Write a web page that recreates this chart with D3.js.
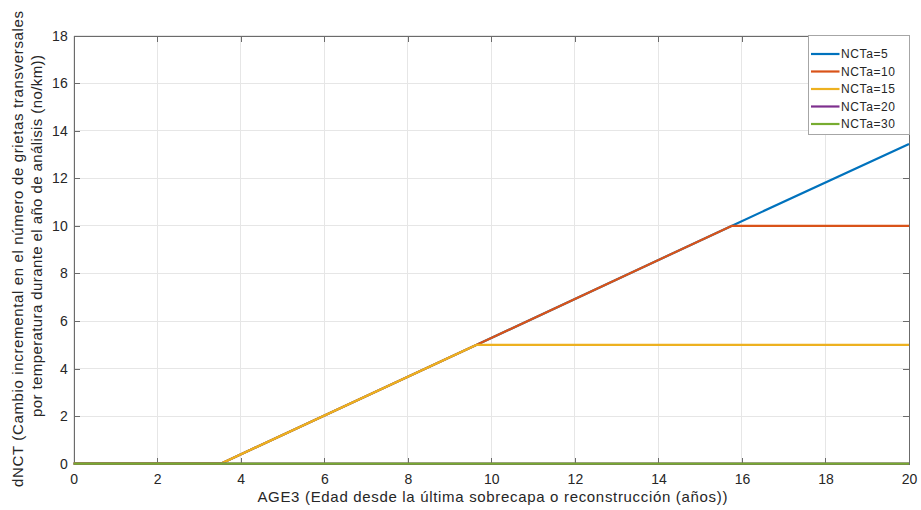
<!DOCTYPE html>
<html>
<head>
<meta charset="utf-8">
<script src="https://cdn.jsdelivr.net/npm/d3@7"></script>
<style>
  html, body { margin: 0; padding: 0; background: #fff; }
  svg { display: block; font-family: "Liberation Sans", Arial, sans-serif; }
</style>
</head>
<body>
<svg id="chart" width="921" height="510"></svg>
<script>
// ---- Data ----
const seriesNames = ["NCTa=5", "NCTa=10", "NCTa=15", "NCTa=20", "NCTa=30"];
const seriesColors = ["#0072BD", "#D95319", "#EDB120", "#7E2F8E", "#77AC30"];
const ageNCTa5  = [0, 3.52, 9.65, 15.75, 20];
const dnctNCTa5 = [0, 0, 5.0, 10.0, 13.45];
const ageNCTa10  = [0, 3.52, 9.65, 15.75, 20];
const dnctNCTa10 = [0, 0, 5.0, 10.0, 10.0];
const ageNCTa15  = [0, 3.52, 9.65, 20];
const dnctNCTa15 = [0, 0, 5.0, 5.0];
const ageNCTa20  = [0, 20];
const dnctNCTa20 = [0, 0];
const ageNCTa30  = [0, 20];
const dnctNCTa30 = [0, 0];
const xTicks = [0, 2, 4, 6, 8, 10, 12, 14, 16, 18, 20];
const yTicks = [0, 2, 4, 6, 8, 10, 12, 14, 16, 18];
const xLabel = "AGE3 (Edad desde la última sobrecapa o reconstrucción (años))";
const yLabel1 = "dNCT (Cambio incremental en el número de grietas transversales";
const yLabel2 = "por temperatura durante el año de análisis (no/km))";

const seriesX = [ageNCTa5, ageNCTa10, ageNCTa15, ageNCTa20, ageNCTa30];
const seriesY = [dnctNCTa5, dnctNCTa10, dnctNCTa15, dnctNCTa20, dnctNCTa30];
const series = seriesNames.map((name, i) => ({
  name, color: seriesColors[i],
  points: seriesX[i].map((x, j) => ({ x, y: seriesY[i][j] }))
}));

// ---- Layout ----
const svg = d3.select("#chart");
const L = 73.7, R = 909, T = 35.7, B = 463.7;
const x = d3.scaleLinear().domain([0, 20]).range([L, R]);
const y = d3.scaleLinear().domain([0, 18]).range([B, T]);

// grid
const grid = svg.append("g");
grid.selectAll("line.gx").data(xTicks).join("line")
  .attr("x1", d => x(d)).attr("x2", d => x(d)).attr("y1", T).attr("y2", B)
  .attr("stroke", "#e6e6e6").attr("stroke-width", 1).attr("shape-rendering", "crispEdges");
grid.selectAll("line.gy").data(yTicks).join("line")
  .attr("y1", d => y(d)).attr("y2", d => y(d)).attr("x1", L).attr("x2", R)
  .attr("stroke", "#e6e6e6").attr("stroke-width", 1).attr("shape-rendering", "crispEdges");

// axes (ticks inward)
const axisColor = "#6b6b6b";
const textColor = "#262626";
const fs = 14;
const xAxis = svg.append("g").attr("transform", `translate(0,${B})`)
  .call(d3.axisBottom(x).tickValues(xTicks).tickFormat(d3.format("d")).tickSizeInner(-6).tickSizeOuter(0).tickPadding(10));
const xAxisTop = svg.append("g").attr("transform", `translate(0,${T})`)
  .call(d3.axisTop(x).tickValues(xTicks).tickFormat("").tickSizeInner(-6).tickSizeOuter(0));
const yAxis = svg.append("g").attr("transform", `translate(${L},0)`)
  .call(d3.axisLeft(y).tickValues(yTicks).tickFormat(d3.format("d")).tickSizeInner(-6).tickSizeOuter(0).tickPadding(6));
const yAxisRight = svg.append("g").attr("transform", `translate(${R},0)`)
  .call(d3.axisRight(y).tickValues(yTicks).tickFormat("").tickSizeInner(-6).tickSizeOuter(0));
[xAxis, xAxisTop, yAxis, yAxisRight].forEach(g => {
  g.select(".domain").attr("stroke", axisColor).attr("shape-rendering", "crispEdges");
  g.selectAll(".tick line").attr("stroke", axisColor).attr("shape-rendering", "crispEdges");
  g.selectAll(".tick text").attr("fill", textColor).style("font-size", fs + "px")
    .style("font-family", '"Liberation Sans", Arial, sans-serif');
});

// lines
const line = d3.line().x(d => x(d.x)).y(d => y(d.y));
svg.append("g").selectAll("path").data(series).join("path")
  .attr("d", d => line(d.points))
  .attr("fill", "none").attr("stroke", d => d.color).attr("stroke-width", 2.2)
  .attr("stroke-linejoin", "round");

// axis labels
svg.append("text").attr("x", 492.4).attr("y", 502)
  .attr("text-anchor", "middle").attr("fill", textColor).style("font-size", "15px")
  .attr("textLength", 470).attr("lengthAdjust", "spacing")
  .text(xLabel);
svg.append("text").attr("transform", `translate(23,249) rotate(-90)`)
  .attr("text-anchor", "middle").attr("fill", textColor).style("font-size", "15px")
  .attr("textLength", 476).attr("lengthAdjust", "spacing")
  .text(yLabel1);
svg.append("text").attr("transform", `translate(42,236) rotate(-90)`)
  .attr("text-anchor", "middle").attr("fill", textColor).style("font-size", "15px")
  .attr("textLength", 362).attr("lengthAdjust", "spacing")
  .text(yLabel2);

// legend
const lg = svg.append("g");
const lgX = 808.3, lgY = T, lgW = R - 808.3, lgH = 134 - T;
lg.append("rect").attr("x", lgX).attr("y", lgY).attr("width", lgW).attr("height", lgH)
  .attr("fill", "#fff").attr("stroke", "#a6a6a6").attr("stroke-width", 1).attr("shape-rendering", "crispEdges");
const rowY = d3.scalePoint().domain(seriesNames).range([54, 124]);
const items = lg.selectAll("g.item").data(series).join("g");
items.append("line")
  .attr("x1", 811).attr("x2", 839.5)
  .attr("y1", d => rowY(d.name)).attr("y2", d => rowY(d.name))
  .attr("stroke", d => d.color).attr("stroke-width", 2.2);
items.append("text")
  .attr("x", 841).attr("y", d => rowY(d.name)).attr("dy", "0.36em")
  .attr("fill", textColor).style("font-size", "12px").style("letter-spacing", "0.6px")
  .text(d => d.name);
</script>
</body>
</html>
